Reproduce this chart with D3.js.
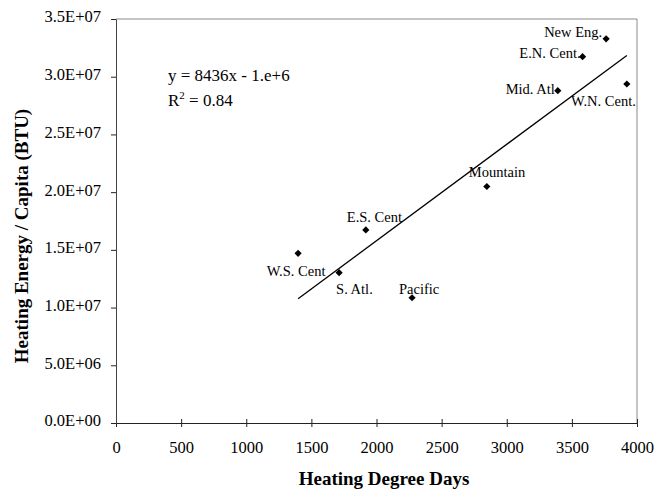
<!DOCTYPE html>
<html>
<head>
<meta charset="utf-8">
<script src="https://cdn.jsdelivr.net/npm/d3@7"></script>
<style>
	body { margin: 0; background: #fff; }
	svg { display: block; font-family: "Liberation Serif", "Times New Roman", serif; }
</style>
</head>
<body>
<svg id="chart"></svg>
<script>
// census regions
const regions = ["W.S. Cent", "S. Atl.", "Pacific", "E.S. Cent", "Mountain", "Mid. Atl", "E.N. Cent.", "New Eng.", "W.N. Cent."]
// heating degree days
const hdd = [1398, 1713, 2273, 1918, 2847, 3392, 3582, 3763, 3922]
// heating energy per capita (BTU)
const energy = [14.70e6, 13.02e6, 10.85e6, 16.73e6, 20.49e6, 28.79e6, 31.74e6, 33.28e6, 29.37e6]

const xTicks = [0, 500, 1000, 1500, 2000, 2500, 3000, 3500, 4000]
const yTicks = [0, 5e6, 1e7, 1.5e7, 2e7, 2.5e7, 3e7, 3.5e7]
const equationText = "y = 8436x - 1.e+6"
const r2Value = "0.84"

const width = 655
const height = 490
const margin = { top: 19, right: 18, bottom: 67, left: 116 }

// label placement next to each marker [dx, dy, anchor]
const labelPos = {
	"W.S. Cent": [-2, 23, "middle"],
	"S. Atl.": [-3, 21, "start"],
	"Pacific": [-13, -4, "start"],
	"E.S. Cent": [-19, -8, "start"],
	"Mountain": [-18, -9, "start"],
	"Mid. Atl": [-3, 3, "end"],
	"E.N. Cent.": [-2, 1, "end"],
	"New Eng.": [-4, -2, "end"],
	"W.N. Cent.": [9, 22, "end"],
}

const data = regions.map((r, i) => ({ region: r, x: hdd[i], y: energy[i] }))

const svg = d3.select("#chart").attr("width", width).attr("height", height)

const scale = {
	x: d3.scaleLinear().domain([0, 4000]).range([margin.left, width - margin.right]),
	y: d3.scaleLinear().domain([0, 3.5e7]).range([height - margin.bottom, margin.top]),
}

// 3.5E+07 style
const sci = (d) => {
	const [m, e] = d.toExponential(1).split("e")
	const n = Math.abs(+e)
	return m + "E" + (+e < 0 ? "-" : "+") + String(n).padStart(2, "0")
}

// frame (top + right)
svg.append("path")
	.attr("d", `M${scale.x(0)},${scale.y(3.5e7)}H${scale.x(4000)}V${scale.y(0)}`)
	.attr("fill", "none")
	.attr("stroke", "#8a8a8a")
	.attr("stroke-width", 1)

// axes
const xAxis = svg.append("g")
	.attr("transform", `translate(0, ${scale.y(0)})`)
	.call(d3.axisBottom(scale.x).tickValues(xTicks).tickFormat(d3.format("d")).tickSize(4).tickSizeOuter(0))
xAxis.selectAll(".tick line").attr("y1", -4).attr("y2", 4).attr("stroke", "#222")
xAxis.select(".domain").attr("stroke", "#222")
xAxis.selectAll("text")
	.attr("y", 18.6)
	.attr("dy", "0.71em")
	.style("font-size", "16.5px")
	.style("font-family", "Liberation Serif, serif")
	.attr("fill", "#000")

const yAxis = svg.append("g")
	.attr("transform", `translate(${scale.x(0)}, 0)`)
	.call(d3.axisLeft(scale.y).tickValues(yTicks).tickFormat(sci).tickSize(5).tickPadding(10).tickSizeOuter(0))
yAxis.selectAll(".tick line").attr("stroke", "#222")
yAxis.select(".domain").attr("stroke", "#444")
yAxis.selectAll("text")
	.attr("dy", "0.18em")
	.style("font-size", "16.5px")
	.style("font-family", "Liberation Serif, serif")
	.attr("fill", "#000")

// least squares trend line
const mx = d3.mean(hdd)
const my = d3.mean(energy)
const slope = d3.sum(data, (d) => (d.x - mx) * (d.y - my)) / d3.sum(data, (d) => (d.x - mx) ** 2)
const intercept = my - slope * mx
const [x0, x1] = d3.extent(hdd)

svg.append("line")
	.attr("x1", scale.x(x0))
	.attr("y1", scale.y(slope * x0 + intercept))
	.attr("x2", scale.x(x1))
	.attr("y2", scale.y(slope * x1 + intercept))
	.attr("stroke", "#000")
	.attr("stroke-width", 1.3)

// points
const diamond = d3.symbol().type(d3.symbolSquare).size(26)
svg.selectAll("path.pt")
	.data(data)
	.join("path")
	.attr("class", "pt")
	.attr("d", diamond)
	.attr("transform", (d) => `translate(${scale.x(d.x)}, ${scale.y(d.y)}) rotate(45)`)
	.attr("fill", "#000")

// labels
svg.selectAll("text.lbl")
	.data(data)
	.join("text")
	.attr("class", "lbl")
	.attr("x", (d) => scale.x(d.x) + labelPos[d.region][0])
	.attr("y", (d) => scale.y(d.y) + labelPos[d.region][1])
	.attr("text-anchor", (d) => labelPos[d.region][2])
	.style("font-size", "14.5px")
	.text((d) => d.region)

// equation
const eq = svg.append("g").style("font-size", "17px")
eq.append("text").attr("x", 168).attr("y", 81).text(equationText)
const r2 = eq.append("text").attr("x", 168).attr("y", 106)
r2.append("tspan").text("R")
r2.append("tspan").attr("dy", -7).style("font-size", "11px").text("2")
r2.append("tspan").attr("dy", 7).text(" = " + r2Value)

// axis titles
svg.append("text")
	.attr("x", 384)
	.attr("y", 485)
	.attr("text-anchor", "middle")
	.style("font-size", "19px")
	.style("font-weight", "bold")
	.text("Heating Degree Days")

svg.append("text")
	.attr("transform", "translate(28, 236) rotate(-90)")
	.attr("text-anchor", "middle")
	.style("font-size", "19px")
	.style("font-weight", "bold")
	.text("Heating Energy / Capita (BTU)")
</script>
</body>
</html>
